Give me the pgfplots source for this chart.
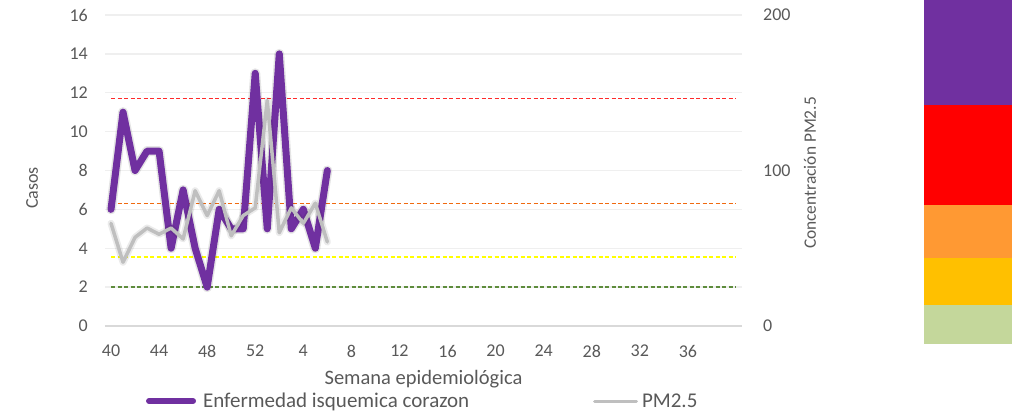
\documentclass[border=0pt]{standalone}
\usepackage{fontspec}
\setmainfont{Carlito}
\usepackage{pgfplots}
\usepackage{pgfplotstable}
\pgfplotsset{compat=1.18}
\definecolor{purp}{HTML}{7030A0}
\definecolor{pmgray}{HTML}{BFBFBF}
\definecolor{txt}{HTML}{595959}
\definecolor{gridc}{HTML}{EFEFEF}
\definecolor{axc}{HTML}{D9D9D9}
\definecolor{dred}{HTML}{FF2A2A}
\definecolor{dorange}{HTML}{F06A10}
\definecolor{dyellow}{HTML}{FFFF00}
\definecolor{dgreen}{HTML}{5E8C3C}
\definecolor{cbpurple}{HTML}{7030A0}
\definecolor{cbred}{HTML}{FF0000}
\definecolor{cborange}{HTML}{FF9933}
\definecolor{cbyellow}{HTML}{FFC000}
\definecolor{cbgreen}{HTML}{C4D79B}

\pgfplotstableread{
i cases
0 6
1 11
2 8
3 9
4 9
5 4
6 7
7 4
8 2
9 6
10 5
11 5
12 13
13 5
14 14
15 5
16 6
17 4
18 8
}\casos

\pgfplotstableread{
i pm
0 66
1 41
2 57
3 63
4 59
5 63
6 56
7 87
8 71
9 87
10 58
11 71
12 76
13 145
14 60
15 76
16 66
17 79
18 54
}\pmdata

\pgfplotsset{
  common/.style={
    at={(105pt,88pt)}, anchor=south west,
    scale only axis, width=637pt, height=311pt,
    xmin=-0.5, xmax=52.5,
    major tick length=0pt,
    /pgf/number format/assume math mode=true,
    tick label style={font=\fontsize{18}{18}\selectfont, text=txt},
  }
}

\begin{document}
\begin{tikzpicture}
% left axis
\begin{axis}[common,
  ymin=0, ymax=16, ytick={0,2,...,16},
  axis x line*=bottom, axis y line*=left,
  x axis line style={draw=axc, line width=1.4pt, -},
  y axis line style={draw=none},
  ymajorgrids, grid style={draw=gridc, line width=1.3pt},
  xtick={0,4,...,48},
  xticklabels={40,44,48,52,4,8,12,16,20,24,28,32,36},
  xticklabel style={anchor=north, inner sep=0pt, yshift=-19pt},
  yticklabel style={anchor=east, inner sep=0pt, xshift=-17pt},
  xlabel={Semana epidemiológica},
  xlabel style={at={(axis description cs:0.5,0)}, anchor=base, inner sep=0pt, yshift=-59pt, font=\fontsize{20.5}{20.5}\selectfont, text=txt},
  ylabel={Casos},
  ylabel style={at={(axis description cs:-0.1146,0.4437)}, anchor=center, inner sep=0pt, font=\fontsize{18}{18}\selectfont, text=txt},
  legend style={draw=none, fill=none, inner sep=0pt, outer sep=0pt,
    at={(axis description cs:0.0644,-0.2412)}, anchor=west,
    nodes={inner sep=0pt}, column sep=7pt,
    font=\fontsize{21}{21}\selectfont, text=txt},
]
\addplot[dred, dash pattern=on 4pt off 2.5pt, line width=1.4pt, forget plot] coordinates {(0,11.7) (52,11.7)};
\addplot[dorange, dash pattern=on 4pt off 2.5pt, line width=1.6pt, forget plot] coordinates {(0,6.3) (52,6.3)};
\addplot[dyellow, dash pattern=on 4pt off 2.5pt, line width=1.4pt, forget plot] coordinates {(0,3.55) (52,3.55)};
\addplot[dgreen, dash pattern=on 4pt off 2.5pt, line width=1.4pt, forget plot] coordinates {(0,2.0) (52,2.0)};
\addplot[black, opacity=0.10, line width=10pt, line join=round, line cap=round, forget plot] table[x=i, y=cases] {\casos};
\addplot[purp, line width=7pt, line join=round, line cap=round,
  legend image code/.code={\draw[purp, line width=6pt, line cap=round] (0pt,0pt) -- (44pt,0pt);}]
  table[x=i, y=cases] {\casos};
\addlegendentry{Enfermedad isquemica corazon}
\end{axis}
% right axis
\begin{axis}[common,
  ymin=0, ymax=200, ytick={0,100,200},
  axis y line*=right, hide x axis,
  y axis line style={draw=none},
  yticklabel style={anchor=west, inner sep=0pt, xshift=21pt},
  ylabel={Concentración PM2.5},
  ylabel style={at={(axis description cs:1.1068,0.492)}, anchor=center, rotate=0, inner sep=0pt, font=\fontsize{17.4}{17.4}\selectfont, text=txt},
  legend style={draw=none, fill=none, inner sep=0pt, outer sep=0pt,
    at={(axis description cs:0.7661,-0.2412)}, anchor=west,
    nodes={inner sep=0pt}, column sep=4pt,
    font=\fontsize{21}{21}\selectfont, text=txt},
]
\addplot[black, opacity=0.08, line width=7pt, line join=round, line cap=round, forget plot] table[x=i, y=pm] {\pmdata};
\addplot[pmgray, line width=3.5pt, line join=round, line cap=round,
  legend image code/.code={\draw[pmgray, line width=3pt] (0pt,0pt) -- (42pt,0pt);}]
  table[x=i, y=pm] {\pmdata};
\addlegendentry{PM2.5}
\end{axis}
% colour scale
\begin{axis}[at={(924pt,70pt)}, anchor=south west, scale only axis,
  width=88pt, height=344pt, hide axis,
  xmin=0, xmax=1, ymin=0, ymax=344]
\addplot[fill=cbgreen, draw=none] coordinates {(0,0) (1,0) (1,39) (0,39)};
\addplot[fill=cbyellow, draw=none] coordinates {(0,39) (1,39) (1,86) (0,86)};
\addplot[fill=cborange, draw=none] coordinates {(0,86) (1,86) (1,139) (0,139)};
\addplot[fill=cbred, draw=none] coordinates {(0,139) (1,139) (1,239) (0,239)};
\addplot[fill=cbpurple, draw=none] coordinates {(0,239) (1,239) (1,344) (0,344)};
\end{axis}
\pgfresetboundingbox
\path (0pt,0pt) rectangle (1018pt,414pt);
\end{tikzpicture}
\end{document}
